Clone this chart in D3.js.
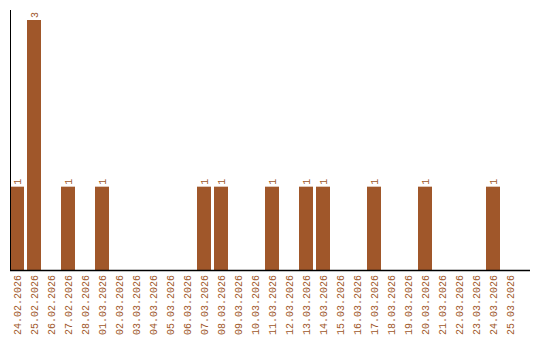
<!DOCTYPE html>
<html>
<head>
<meta charset="utf-8">
<script src="https://cdn.jsdelivr.net/npm/d3@7"></script>
<style>
    body { margin: 0; background: #fff; }
    svg text { font-family: "Liberation Mono", monospace; font-size: 10px; }
</style>
</head>
<body>
<div id="chart"></div>
<script>
// Daily counts, 24.02.2026 .. 25.03.2026
var days = [
    "24.02.2026", "25.02.2026", "26.02.2026", "27.02.2026", "28.02.2026",
    "01.03.2026", "02.03.2026", "03.03.2026", "04.03.2026", "05.03.2026",
    "06.03.2026", "07.03.2026", "08.03.2026", "09.03.2026", "10.03.2026",
    "11.03.2026", "12.03.2026", "13.03.2026", "14.03.2026", "15.03.2026",
    "16.03.2026", "17.03.2026", "18.03.2026", "19.03.2026", "20.03.2026",
    "21.03.2026", "22.03.2026", "23.03.2026", "24.03.2026", "25.03.2026"
];
var counts = [
    1, 3, 0, 1, 0,
    1, 0, 0, 0, 0,
    0, 1, 1, 0, 0,
    1, 0, 1, 1, 0,
    0, 1, 0, 0, 1,
    0, 0, 0, 1, 0
];

var width = 540,
    height = 340,
    marginLeft = 10,
    axisBottom = 270,
    axisTop = 10,
    barColor = "#a0572a";

var svg = d3.select("#chart").append("svg")
    .attr("width", width)
    .attr("height", height);

var data = days.map(function (d, i) { return { day: d, count: counts[i] }; });

var x = d3.scaleBand()
    .domain(days)
    .range([marginLeft, marginLeft + 507])
    .paddingInner(3 / 17)
    .paddingOuter(0);

var y = d3.scaleLinear()
    .domain([0, d3.max(counts) * 1.04])
    .range([axisBottom, axisTop]);

// bars
svg.append("g").selectAll("rect")
    .data(data.filter(function (d) { return d.count > 0; }))
    .enter().append("rect")
    .attr("x", function (d) { return x(d.day); })
    .attr("y", function (d) { return y(d.count); })
    .attr("width", x.bandwidth())
    .attr("height", function (d) { return y(0) - y(d.count); })
    .attr("fill", barColor);

// value labels
svg.append("g").selectAll("text")
    .data(data.filter(function (d) { return d.count > 0; }))
    .enter().append("text")
    .attr("transform", function (d) {
        return "translate(" + (x(d.day) + x.bandwidth() / 2 + 3.5) + "," + (y(d.count) - 2) + ") rotate(-90)";
    })
    .attr("fill", barColor)
    .text(function (d) { return d.count; });

// axes
svg.append("line")
    .attr("x1", marginLeft + 0.5).attr("x2", marginLeft + 0.5)
    .attr("y1", axisTop).attr("y2", axisBottom)
    .attr("stroke", "#000");
svg.append("line")
    .attr("x1", marginLeft).attr("x2", 530)
    .attr("y1", axisBottom + 0.5).attr("y2", axisBottom + 0.5)
    .attr("stroke", "#000")
    .attr("stroke-width", 1.5);

// tick labels
svg.append("g").selectAll("text")
    .data(days)
    .enter().append("text")
    .attr("transform", function (d) {
        return "translate(" + (x(d) + x.bandwidth() / 2 + 3.5) + "," + (axisBottom + 5) + ") rotate(-90)";
    })
    .attr("text-anchor", "end")
    .attr("fill", barColor)
    .text(function (d) { return d; });
</script>
</body>
</html>
